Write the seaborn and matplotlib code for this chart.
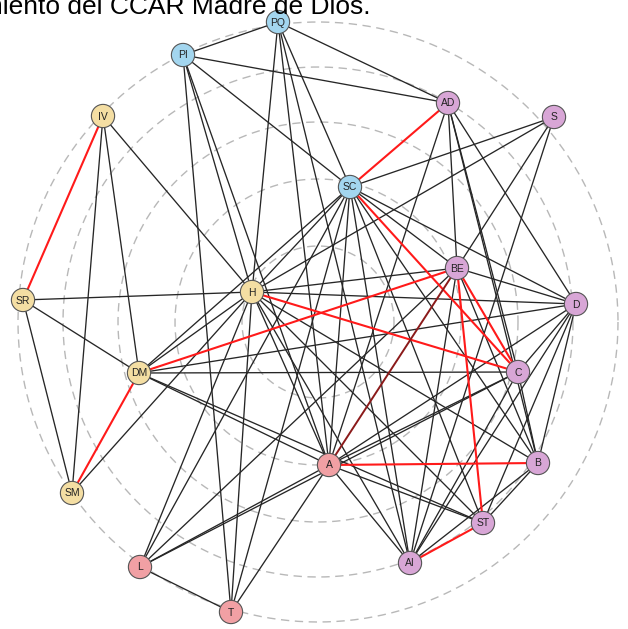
import numpy as np
import pandas as pd
import matplotlib
matplotlib.use("Agg")
import matplotlib.pyplot as plt
import seaborn as sns

# Node layout (concentric shells), labels and actor groups
labels = ["PQ", "PI", "AD", "S", "IV", "SC", "BE", "H", "SR", "D",
          "DM", "C", "A", "B", "SM", "ST", "AI", "L", "T"]
pos_x = [278, 183, 448, 554, 103, 350, 457, 252, 23, 576,
         139, 518, 329, 538, 72, 483, 410, 140, 231]
pos_y = [22, 55, 103, 117, 116, 187, 268, 292, 300, 304,
         373, 372, 465, 463, 493, 523, 563, 567, 612]
groups = ["azul", "azul", "morado", "morado", "amarillo", "azul", "morado",
          "amarillo", "amarillo", "morado", "amarillo", "morado", "rojo",
          "morado", "amarillo", "morado", "morado", "rojo", "rojo"]

# Ties between actors: ordinary ties and strong ties
edges_black = [
    ("PQ", "PI"), ("PQ", "AD"), ("PQ", "SC"), ("PQ", "H"), ("PQ", "A"), ("PQ", "AI"),
    ("PI", "AD"), ("PI", "SC"), ("PI", "H"), ("PI", "A"), ("PI", "T"),
    ("IV", "H"), ("IV", "SM"), ("IV", "DM"),
    ("SR", "H"), ("SR", "DM"), ("SR", "SM"),
    ("SM", "H"),
    ("DM", "H"), ("DM", "SC"), ("DM", "C"), ("DM", "D"), ("DM", "A"), ("DM", "ST"),
    ("H", "SC"), ("H", "BE"), ("H", "D"), ("H", "A"), ("H", "L"), ("H", "T"),
    ("H", "AI"), ("H", "ST"), ("H", "B"),
    ("SC", "S"), ("SC", "D"), ("SC", "BE"), ("SC", "A"), ("SC", "AI"),
    ("SC", "ST"), ("SC", "B"), ("SC", "L"), ("SC", "T"),
    ("AD", "A"), ("AD", "BE"), ("AD", "C"), ("AD", "D"), ("AD", "B"),
    ("S", "H"), ("S", "BE"), ("S", "AI"),
    ("BE", "D"), ("BE", "L"), ("BE", "AI"), ("BE", "B"),
    ("D", "C"), ("D", "A"), ("D", "B"), ("D", "ST"), ("D", "AI"),
    ("C", "A"), ("C", "B"), ("C", "AI"), ("C", "L"),
    ("A", "L"), ("A", "T"), ("A", "AI"), ("A", "ST"),
    ("B", "ST"), ("B", "AI"),
    ("L", "T"),
]
edges_red = [
    ("SC", "AD"), ("IV", "SR"), ("DM", "SM"), ("DM", "BE"), ("H", "C"),
    ("SC", "C"), ("BE", "C"), ("BE", "ST"), ("A", "B"), ("AI", "ST"),
]
edges_darkred = [("A", "BE")]

# Radii of the dashed reference rings and their centre
ring_radii = [300, 255, 200, 143, 76]
ring_center = (318, 322)

title = "Funcionamiento del CCAR Madre de Dios."

palette = {"azul": "#a3d6ef", "amarillo": "#f4dea3",
           "morado": "#d8a6d6", "rojo": "#f1a0a4"}

nodes = pd.DataFrame({"label": labels, "x": pos_x, "y": pos_y, "grupo": groups})
idx = {lab: i for i, lab in enumerate(labels)}

sns.set_theme(style="white")
plt.rcParams["font.family"] = ["Liberation Sans", "DejaVu Sans"]

W, H = 628, 629
fig = plt.figure(figsize=(W / 100, H / 100), dpi=100)
ax = fig.add_axes([0, 0, 1, 1])

# dashed rings
theta = np.linspace(0, 2 * np.pi, 400)
for r in ring_radii:
    ax.plot(ring_center[0] + r * np.cos(theta), ring_center[1] + r * np.sin(theta),
            ls=(0, (6, 4)), color="#b8b8b8", lw=1.0, zorder=1)


def draw_edges(pairs, color, lw):
    for a, b in pairs:
        i, j = idx[a], idx[b]
        seg = pd.DataFrame({"x": [pos_x[i], pos_x[j]], "y": [pos_y[i], pos_y[j]]})
        sns.lineplot(data=seg, x="x", y="y", ax=ax, color=color, lw=lw,
                     sort=False, estimator=None, zorder=2)


draw_edges(edges_black, "#262626", 0.95)
draw_edges(edges_red, "#ff1a1a", 1.5)
draw_edges(edges_darkred, "#8b1a1a", 1.4)

sns.scatterplot(data=nodes, x="x", y="y", hue="grupo", palette=palette,
                s=280, edgecolor="#555555", linewidth=0.8, legend=False,
                ax=ax, zorder=3)

for lab, x, y in zip(labels, pos_x, pos_y):
    ax.text(x, y + 0.5, lab, ha="center", va="center", fontsize=7.5,
            color="#222222", zorder=4)

ax.set_xlim(0, W)
ax.set_ylim(H, 0)
ax.axis("off")

fig.text(370 / W, 1 - 14 / H, title, ha="right", va="baseline",
         fontsize=19, color="black")

fig.savefig("out.png", dpi=100)
